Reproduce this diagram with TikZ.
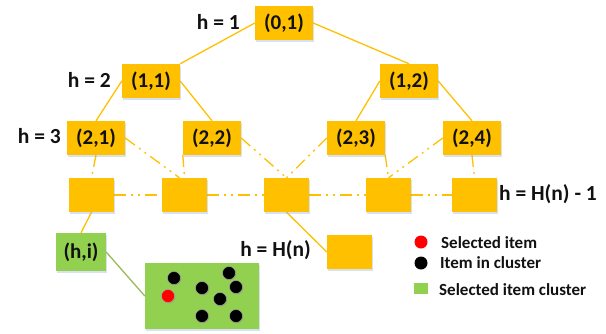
\documentclass[tikz,border=0pt]{standalone}
\usepackage{fontspec}
\setmainfont{Carlito}
\usetikzlibrary{shadows,backgrounds}
\definecolor{gold}{HTML}{FFC000}
\definecolor{leaf}{HTML}{92D050}
\definecolor{olive}{HTML}{9BBB59}
\definecolor{ink}{HTML}{111111}
\definecolor{shade}{HTML}{8EA9DB}
\tikzset{
  boxshadow/.style={drop shadow={shadow xshift=1pt, shadow yshift=-1.5pt, fill=shade, opacity=0.35}},
  tbox/.style={fill=gold, minimum width=58pt, minimum height=34pt, inner sep=0pt,
    text=ink, font=\bfseries\fontsize{21}{21}\selectfont, boxshadow},
  ebox/.style={fill=gold, minimum width=45pt, minimum height=34pt, inner sep=0pt, boxshadow},
  hlabel/.style={text=ink, font=\bfseries\fontsize{21.5}{21.5}\selectfont, inner sep=0pt},
  legtext/.style={text=ink, font=\bfseries\fontsize{17}{17}\selectfont, inner sep=0pt, anchor=west},
  tline/.style={draw=gold, line width=1.3pt},
  dline/.style={tline, dash pattern=on 12pt off 5pt on 2pt off 5pt on 2pt off 5pt},
  dot/.style={circle, fill=black, draw=gray!70, line width=0.5pt, minimum size=13pt, inner sep=0pt,
    drop shadow={shadow xshift=0.8pt, shadow yshift=-0.8pt, fill=gray, opacity=0.35}},
}
\begin{document}
\begin{tikzpicture}[x=1pt, y=-1pt]
\useasboundingbox (0,0) rectangle (606,333);

% tree nodes
\node[tbox] (n01) at (284,23) {(0,1)};
\node[tbox] (n11) at (151,81) {(1,1)};
\node[tbox] (n12) at (409,81) {(1,2)};
\node[tbox] (n21) at (96,138) {(2,1)};
\node[tbox] (n22) at (212,138) {(2,2)};
\node[tbox] (n23) at (356,138) {(2,3)};
\node[tbox] (n24) at (472,138) {(2,4)};

% level H(n)-1
\node[ebox] (e1) at (91.5,195) {};
\node[ebox] (e2) at (184.5,195) {};
\node[ebox] (e3) at (286.5,195) {};
\node[ebox] (e4) at (388.5,195) {};
\node[ebox] (e5) at (474.5,195) {};

% level H(n)
\node[tbox, fill=leaf, minimum width=50pt, minimum height=38pt] (hi) at (81,252) {(h,i)};
\node[ebox] (hn) at (349.5,252) {};

% cluster contents
\node[fill=leaf, minimum width=114pt, minimum height=66pt, inner sep=0pt, boxshadow] (cl) at (202,296) {};
\node[dot] (d1) at (174,278) {};
\node[dot, fill=red] (d2) at (168,296) {};
\node[dot] (d3) at (202,288) {};
\node[dot] (d4) at (229,273) {};
\node[dot] (d5) at (236,287) {};
\node[dot] (d6) at (220,299) {};
\node[dot] (d7) at (202,316) {};
\node[dot] (d8) at (236,316) {};

% level labels
\node[hlabel, anchor=east] (l1) at (240,22) {h = 1};
\node[hlabel, anchor=east] (l2) at (111,80) {h = 2};
\node[hlabel, anchor=east] (l3) at (61,136) {h = 3};
\node[hlabel, anchor=west] (l4) at (499,194) {h = H(n) - 1};
\node[hlabel, anchor=east] (l5) at (311,250) {h = H(n)};

% legend
\node[circle, fill=red, minimum size=13pt, inner sep=0pt] (kr) at (421,242) {};
\node[circle, fill=black, minimum size=13pt, inner sep=0pt] (kb) at (421,263) {};
\node[fill=leaf, minimum width=14pt, minimum height=11pt, inner sep=0pt] (kg) at (421,288) {};
\node[legtext] (tr) at (441,243) {Selected item};
\node[legtext] (tb) at (440,263) {Item in cluster};
\node[legtext] (tg) at (439,290) {Selected item cluster};

\begin{scope}[on background layer]
  % solid tree edges
  \draw[tline] (n01.west) -- (n11.north east);
  \draw[tline] (n01.east) -- (n12.north);
  \draw[tline] (n11.west) -- (n21.north);
  \draw[tline] (n11.east) -- (n22.north);
  \draw[tline] (n12.west) -- (n23.north);
  \draw[tline] (n12.east) -- (n24.north);
  % elided levels
  \draw[dline] (n21.south) -- (e1.north);
  \draw[dline] (n21.east) -- ([xshift=-5pt]e2.north);
  \draw[dline] (n22.south west) -- (e2.north);
  \draw[dline] (n22.east) -- (e3.north);
  \draw[dline] (n23.west) -- (e3.north);
  \draw[dline] (n23.south east) -- (e4.north);
  \draw[dline] (n24.west) -- (e4.north);
  \draw[dline] (n24.south) -- (e5.north);
  \draw[dline] (e1.east) -- (e2.west);
  \draw[dline] (e2.east) -- (e3.west);
  \draw[dline] (e3.east) -- (e4.west);
  \draw[dline] (e4.east) -- (e5.west);
  % last level
  \draw[tline] (e1.south) -- (hi.north);
  \draw[tline] (e3.south) -- (hn.west);
  \draw[draw=olive, line width=1.3pt] (hi.east) -- (cl.west);
\end{scope}
\end{tikzpicture}
\end{document}
